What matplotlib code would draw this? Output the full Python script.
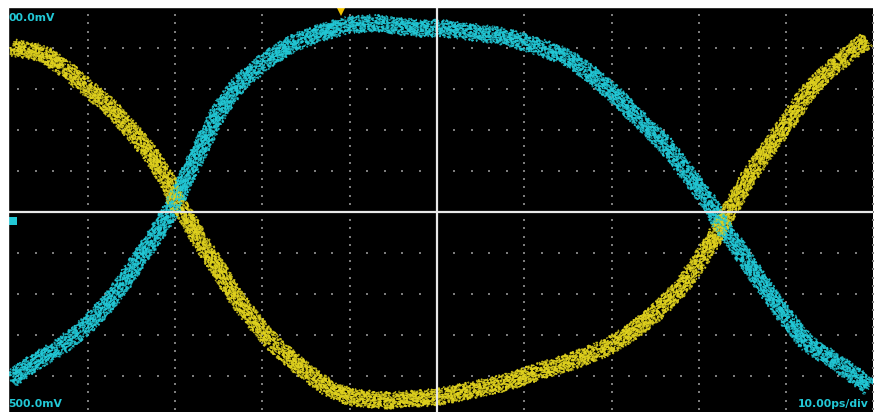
import numpy as np
import matplotlib
matplotlib.use("Agg")
import matplotlib.pyplot as plt
from matplotlib.patches import Rectangle

# Trace points (time in ps, amplitude in mV)
yellow_t = [-48.9, -45.2, -42.4, -39.8, -37.1, -34.8, -32.9, -30.9, -29.8, -28.7,
            -27.2, -25.2, -23.4, -21.1, -18.8, -15.7, -12.6, -10.0, -6.2, -2.0,
            0.3, 4.1, 8.0, 11.8, 15.6, 19.5, 22.5, 25.2, 27.9, 30.2,
            32.1, 33.6, 35.5, 37.8, 40.1, 42.4, 45.0, 47.3, 49.3]
yellow_v = [402, 388, 346, 298, 249, 193, 144, 78, 22, -12,
            -68, -134, -198, -263, -320, -378, -427, -451, -460, -455,
            -450, -434, -415, -388, -363, -330, -290, -244, -185, -117,
            -51, 5, 78, 151, 217, 290, 346, 388, 420]

cyan_t = [-48.9, -46.3, -43.2, -39.8, -37.1, -34.4, -32.1, -30.3, -28.7, -26.8,
          -24.9, -22.6, -19.5, -16.5, -13.4, -10.3, -7.3, -4.2, -1.5,
          0.3, 4.1, 8.0, 11.8, 14.9, 17.5, 20.2, 23.3, 26.4, 28.7,
          31.0, 32.8, 34.7, 37.0, 39.6, 42.4, 45.4, 48.1, 49.6]
cyan_v = [-410, -368, -329, -271, -207, -124, -51, 12, 85, 168,
          249, 315, 371, 412, 437, 456, 461, 453, 447,
          449, 439, 427, 402, 378, 339, 290, 224, 159, 95,
          29, -37, -93, -166, -246, -320, -361, -402, -429]

trigger_t = -11.0
ground_v = -22
top_label = "00.0mV"
bottom_label = "500.0mV"
scale_label = "10.00ps/div"

YELLOW = "#e0d21e"
CYAN = "#22c8d6"
GRID = "#7c7c7c"

fig = plt.figure(figsize=(8.79, 4.12), dpi=100)
fig.patch.set_facecolor("white")
W, H = 879.0, 412.0
ax = fig.add_axes([0.75 / W, -5 / H, 872.5 / W, 410 / H])
ax.set_facecolor("black")
ax.set_xlim(-50, 50)
ax.set_ylim(-500, 500)
ax.set_xticks([])
ax.set_yticks([])
for s in ax.spines.values():
    s.set_visible(False)

# graticule: dotted division lines
minor_v = np.arange(-500, 501, 20)
minor_t = np.arange(-50, 50.1, 2)
for xt in np.arange(-50, 51, 10):
    if xt == 0:
        continue
    ax.scatter(np.full(minor_v.shape, xt), minor_v, s=2.6, marker="s",
               color=GRID, linewidths=0, zorder=1)
for yv in np.arange(-500, 501, 100):
    if yv == 0:
        continue
    ax.scatter(minor_t, np.full(minor_t.shape, yv), s=2.6, marker="s",
               color=GRID, linewidths=0, zorder=1)

# traces: speckled noisy bands built from jittered dotted strokes
for i in range(12):
    ls = (i * 0.6, (0.7, 3.2))
    ly, = ax.plot(yellow_t, yellow_v, color=YELLOW, lw=1.4, alpha=0.85,
                  linestyle=ls, zorder=2)
    ly.set_sketch_params(8.5, 0.9 + 0.4 * i, 8)
    lc, = ax.plot(cyan_t, cyan_v, color=CYAN, lw=1.4, alpha=0.85,
                  linestyle=ls, zorder=2)
    lc.set_sketch_params(8.5, 1.0 + 0.4 * i, 8)

# centre crosshair
ax.axhline(0, color="#e8e8e8", lw=1.6, zorder=3)
ax.axvline(0, color="#e8e8e8", lw=1.6, zorder=3)

# trigger marker
ax.plot([trigger_t], [492], marker="v", ms=9, color="#f2c400",
        markeredgewidth=0, zorder=5, clip_on=False)

# white margins outside the screen
fig.patches.append(Rectangle((0, 0), 8 / W, 1, transform=fig.transFigure,
                             color="white", zorder=10))
fig.patches.append(Rectangle((0, 405 / H), 1, 7 / H, transform=fig.transFigure,
                             color="white", zorder=10))

# channel ground marker
ax.plot([-48.6], [ground_v], marker="s", ms=6, color=CYAN,
        markeredgewidth=0, zorder=11, clip_on=False)

fig.text(9 / W, (412 - 18) / H, top_label, color=CYAN, fontsize=7.8,
         fontweight="bold", va="center", ha="left", zorder=12)
fig.text(8 / W, (412 - 404) / H, bottom_label, color=CYAN, fontsize=7.8,
         fontweight="bold", va="center", ha="left", zorder=12)
fig.text(869 / W, (412 - 404) / H, scale_label, color=CYAN, fontsize=7.8,
         fontweight="bold", va="center", ha="right", zorder=12)

fig.savefig("out.png", dpi=100, facecolor="white")
